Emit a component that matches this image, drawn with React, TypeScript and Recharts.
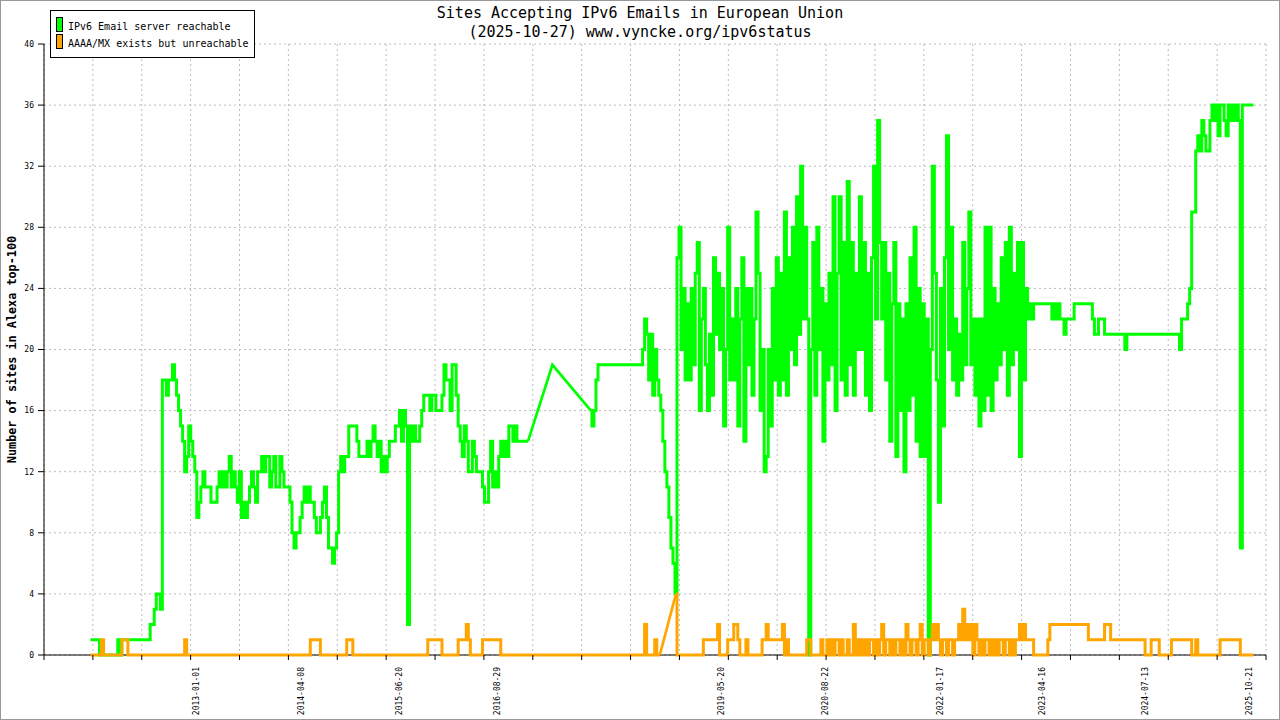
import { CartesianGrid, Line, LineChart, XAxis, YAxis } from 'recharts'

const FONT = '"DejaVu Sans Mono", "Liberation Mono", monospace'
const GREEN = '#00ff00'
const ORANGE = '#ffa500'

// one sample every 9 days starting here
const FIRST_SAMPLE = '2011-09-15'
const SAMPLE_DAYS = 9

// sites with a reachable IPv6 mail server, 10 samples per row
const greenA = [
  1, 1, 1, 1, 1, 0, 0, 0, 0, 0,
  0, 0, 0, 0, 1, 0, 1, 1, 1, 1,
  1, 1, 1, 1, 1, 1, 1, 1, 1, 1,
  2, 2, 3, 4, 4, 3, 18, 18, 17, 18,
  18, 19, 18, 17, 16, 15, 14, 12, 13, 15,
  14, 13, 12, 9, 10, 11, 12, 11, 11, 11,
  10, 10, 10, 11, 12, 11, 12, 11, 12, 13,
  11, 12, 11, 10, 12, 9, 10, 9, 10, 11,
  12, 11, 10, 12, 12, 13, 12, 13, 13, 11,
  12, 13, 11, 11, 13, 12, 11, 11, 11, 10,
  8, 7, 8, 8, 9, 10, 11, 10, 11, 10,
  10, 9, 8, 8, 9, 10, 11, 9, 7, 7,
  6, 7, 8, 12, 13, 12, 13, 13, 15, 15,
  15, 15, 14, 13, 13, 13, 13, 14, 13, 14,
  15, 14, 13, 14, 12, 13, 12, 13, 14, 14,
]
const greenB = [
  14, 15, 15, 16, 14, 16, 15, 2, 15, 14,
  15, 14, 14, 15, 16, 17, 17, 17, 16, 17,
  17, 16, 16, 16, 17, 19, 18, 18, 16, 19,
  19, 17, 15, 14, 13, 15, 14, 12, 12, 14,
  13, 12, 12, 12, 11, 10, 10, 12, 14, 11,
  12, 11, 13, 14, 13, 14, 13, 15, 15, 14,
  15, 14, 14, 14, 14, 14, 14, null, null, null,
  null, null, null, null, null, null, null, null, 19, null,
  null, null, null, null, null, null, null, null, null, null,
  null, null, null, null, null, null, null, 16, 15, 16,
  18, 19, 19, 19, 19, 19, 19, 19, 19, 19,
  19, 19, 19, 19, 19, 19, 19, 19, 19, 19,
  19, 19, 19, 20, 22, 21, 18, 21, 17, 20,
  18, 17, 16, 14, 12, 11, 9, 7, 6, 4,
]
const greenC = [
  26, 28, 20, 24, 18, 23, 18, 24, 19, 25,
  27, 16, 22, 24, 19, 16, 21, 17, 26, 21,
  25, 20, 24, 15, 20, 28, 18, 22, 18, 24,
  15, 22, 26, 14, 24, 19, 24, 17, 22, 29,
  25, 16, 20, 12, 13, 20, 15, 24, 18, 26,
  17, 25, 18, 29, 17, 26, 20, 28, 19, 30,
  21, 32, 22, 28, 22, 0, 20, 27, 17, 28,
  20, 24, 14, 23, 18, 25, 19, 30, 16, 25,
  30, 18, 27, 17, 31, 19, 27, 17, 25, 20,
  30, 20, 27, 17, 25, 16, 26, 32, 22, 35,
  27, 22, 27, 18, 25, 14, 23, 27, 13, 23,
  16, 22, 12, 23, 16, 26, 17, 28, 14, 24,
  13, 23, 13, 22, 0, 20, 32, 25, 18, 10,
  24, 15, 26, 34, 20, 28, 18, 22, 17, 21,
  18, 27, 19, 24, 29, 19, 22, 17, 22, 15,
  22, 16, 28, 17, 28, 16, 24, 18, 23, 19,
  26, 20, 27, 17, 28, 19, 25, 20, 27, 13,
  27, 18, 24, 22, 23, 22, 23, 23, 23, 23,
]
const greenD = [
  23, 23, 23, 23, 23, 22, 23, 22, 23, 22,
  22, 21, 22, 22, 22, 22, 23, 23, 23, 23,
  23, 23, 23, 23, 23, 22, 21, 21, 22, 22,
  22, 21, 21, 21, 21, 21, 21, 21, 21, 21,
  21, 20, 21, 21, 21, 21, 21, 21, 21, 21,
  21, 21, 21, 21, 21, 21, 21, 21, 21, 21,
  21, 21, 21, 21, 21, 21, 21, 21, 20, 22,
  22, 22, 23, 24, 29, 29, 33, 34, 33, 35,
  34, 33, 33, 35, 36, 35, 36, 34, 36, 36,
  35, 34, 36, 35, 36, 35, 36, 35, 7, 36,
  36, 36, 36, 36, 36,
]

// AAAA/MX present but server unreachable
const orangeA = [
  0, 0, 0, 0, 0, 0, 1, 0, 0, 0,
  0, 0, 0, 0, 0, 0, 1, 1, 1, 0,
  0, 0, 0, 0, 0, 0, 0, 0, 0, 0,
  0, 0, 0, 0, 0, 0, 0, 0, 0, 0,
  0, 0, 0, 0, 0, 0, 0, 1, 0, 0,
  0, 0, 0, 0, 0, 0, 0, 0, 0, 0,
  0, 0, 0, 0, 0, 0, 0, 0, 0, 0,
  0, 0, 0, 0, 0, 0, 0, 0, 0, 0,
  0, 0, 0, 0, 0, 0, 0, 0, 0, 0,
  0, 0, 0, 0, 0, 0, 0, 0, 0, 0,
  0, 0, 0, 0, 0, 0, 0, 0, 0, 1,
  1, 1, 1, 1, 0, 0, 0, 0, 0, 0,
  0, 0, 0, 0, 0, 0, 0, 1, 1, 1,
  0, 0, 0, 0, 0, 0, 0, 0, 0, 0,
  0, 0, 0, 0, 0, 0, 0, 0, 0, 0,
]
const orangeB = [
  0, 0, 0, 0, 0, 0, 0, 0, 0, 0,
  0, 0, 0, 0, 0, 0, 0, 1, 1, 1,
  1, 1, 1, 1, 0, 0, 0, 0, 0, 0,
  0, 0, 1, 1, 1, 1, 2, 1, 0, 0,
  0, 0, 0, 0, 1, 1, 1, 1, 1, 1,
  1, 1, 1, 0, 0, 0, 0, 0, 0, 0,
  0, 0, 0, 0, 0, 0, 0, 0, 0, 0,
  0, 0, 0, 0, 0, 0, 0, 0, 0, 0,
  0, 0, 0, 0, 0, 0, 0, 0, 0, 0,
  0, 0, 0, 0, 0, 0, 0, 0, 0, 0,
  0, 0, 0, 0, 0, 0, 0, 0, 0, 0,
  0, 0, 0, 0, 0, 0, 0, 0, 0, 0,
  0, 0, 0, 0, 2, 0, 0, 0, 0, 1,
  0, 0, null, null, null, null, null, null, null, 4,
]
const orangeC = [
  0, 0, 0, 0, 0, 0, 0, 0, 0, 0,
  0, 0, 0, 1, 1, 1, 1, 1, 1, 1,
  2, 0, 0, 0, 0, 1, 1, 1, 2, 2,
  1, 0, 0, 0, 1, 0, 0, 0, 0, 0,
  0, 0, 1, 1, 2, 1, 1, 1, 1, 1,
  1, 1, 2, 0, 1, 0, 0, 0, 0, 0,
  0, 0, 0, 0, 1, 1, 0, 0, 0, 0,
  0, 1, 0, 0, 1, 0, 1, 0, 1, 1,
  0, 1, 0, 0, 1, 0, 0, 2, 0, 1,
  0, 1, 0, 1, 0, 1, 1, 0, 1, 0,
  1, 2, 0, 1, 1, 0, 1, 0, 1, 1,
  0, 1, 0, 2, 1, 0, 1, 1, 0, 1,
  2, 0, 1, 1, 0, 1, 2, 1, 2, 1,
  0, 1, 1, 0, 1, 1, 0, 1, 1, 2,
  1, 3, 1, 2, 1, 2, 0, 2, 1, 0,
  1, 0, 1, 1, 0, 1, 0, 1, 0, 1,
  1, 0, 1, 1, 0, 1, 0, 1, 1, 2,
  1, 2, 1, 1, 1, 1, 0, 0, 0, 0,
]
const orangeD = [
  0, 0, 0, 1, 2, 2, 2, 2, 2, 2,
  2, 2, 2, 2, 2, 2, 2, 2, 2, 2,
  2, 2, 2, 1, 1, 1, 1, 1, 1, 1,
  1, 2, 2, 2, 1, 1, 1, 1, 1, 1,
  1, 1, 1, 1, 1, 1, 1, 1, 1, 1,
  1, 0, 0, 0, 1, 1, 1, 1, 0, 0,
  0, 0, 0, 0, 1, 1, 1, 1, 1, 1,
  1, 1, 1, 1, 0, 0, 1, 0, 0, 0,
  0, 0, 0, 0, 0, 0, 0, 0, 1, 1,
  1, 1, 1, 1, 1, 1, 1, 1, 0, 0,
  0, 0, 0, 0, 0,
]

const labelDates = [
  '2013-01-01', '2014-04-08', '2015-06-20', '2016-08-29', '2019-05-20',
  '2020-08-22', '2022-01-17', '2023-04-16', '2024-07-13', '2025-10-21',
]
const X_FROM = '2011-02-21'
const X_TO = '2026-01-01'
const GRID_DIVISIONS = 25
const yTicks = [0, 4, 8, 12, 16, 20, 24, 28, 32, 36, 40]

function toYear(date: string) {
  const t = Date.parse(date + 'T00:00:00Z')
  const y = new Date(t).getUTCFullYear()
  const a = Date.UTC(y, 0, 1)
  const b = Date.UTC(y + 1, 0, 1)
  return y + (t - a) / (b - a)
}

// linear joins across the gaps in the record
function gapEnds(vals: (number | null)[]) {
  return vals.map((v, i) => {
    if (v == null) return null
    const prevGap = i > 0 && vals[i - 1] == null
    const nextGap = i < vals.length - 1 && vals[i + 1] == null
    return prevGap || nextGap ? v : null
  })
}

const green = [...greenA, ...greenB, ...greenC, ...greenD]
const orange = [...orangeA, ...orangeB, ...orangeC, ...orangeD]
const greenGap = gapEnds(green)
const orangeGap = gapEnds(orange)
const t0 = toYear(FIRST_SAMPLE)

const data = green.map((g, i) => ({
  x: t0 + (i * SAMPLE_DAYS) / 365.25,
  green: g,
  orange: orange[i],
  greenGap: greenGap[i],
  orangeGap: orangeGap[i],
}))

const xMin = toYear(X_FROM)
const xMax = toYear(X_TO)
const gridTicks = Array.from(
  { length: GRID_DIVISIONS + 1 },
  (_, k) => xMin + (k * (xMax - xMin)) / GRID_DIVISIONS,
)
const labelByValue = new Map(labelDates.map((d) => [toYear(d), d]))
const axisTicks = [...gridTicks, ...labelByValue.keys()].sort((a, b) => a - b)

function XTick(props: any) {
  const { x, y, payload } = props
  const label = labelByValue.get(payload.value)
  if (label) {
    const ty = y + 12
    return (
      <text
        x={x}
        y={ty}
        transform={`rotate(-90 ${x} ${ty})`}
        textAnchor="end"
        dominantBaseline="central"
        fontSize={8}
        fontFamily={FONT}
        fill="#000"
      >
        {label}
      </text>
    )
  }
  return <line x1={x} y1={y} x2={x} y2={y + 5} stroke="#000" />
}

const lineProps = { dot: false, isAnimationActive: false, zIndex: 600 } as any

export default function App() {
  return (
    <div style={{ position: 'absolute', left: 0, top: 0, width: 1280, height: 720, background: '#fff' }}>
      <LineChart width={1280} height={720} data={data} margin={{ top: 44, right: 14, bottom: 0, left: 0 }}>
        <CartesianGrid xAxisId="grid" stroke="#bbb" strokeDasharray="2 3" />
        <XAxis
          dataKey="x"
          type="number"
          domain={[xMin, xMax]}
          ticks={axisTicks}
          interval={0}
          tickLine={false}
          tickSize={0}
          tickMargin={0}
          tick={<XTick />}
          axisLine={{ stroke: '#000' }}
          height={65}
          {...({ zIndex: -50 } as any)}
        />
        <XAxis xAxisId="grid" dataKey="x" type="number" domain={[xMin, xMax]} ticks={gridTicks} interval={0} hide />
        <YAxis
          type="number"
          domain={[0, 40]}
          ticks={yTicks}
          interval={0}
          width={44}
          tickSize={6}
          tickMargin={4}
          axisLine={{ stroke: '#000' }}
          tickLine={{ stroke: '#000' }}
          tick={{ fontSize: 8, fill: '#000', fontFamily: FONT }}
        />
        <Line dataKey="green" type="step" stroke={GREEN} strokeWidth={3} {...lineProps} />
        <Line dataKey="greenGap" type="linear" connectNulls stroke={GREEN} strokeWidth={2.7} {...lineProps} />
        <Line dataKey="orange" type="step" stroke={ORANGE} strokeWidth={3} {...lineProps} />
        <Line dataKey="orangeGap" type="linear" connectNulls stroke={ORANGE} strokeWidth={2.7} {...lineProps} />
      </LineChart>
      <svg width={1280} height={720} style={{ position: 'absolute', left: 0, top: 0, pointerEvents: 'none' }} fontFamily={FONT}>
        <rect x={0.5} y={0.5} width={1279} height={719} fill="none" stroke="#999" />
        <text x={640} y={13} textAnchor="middle" dominantBaseline="central" fontSize={15}>
          Sites Accepting IPv6 Emails in European Union
        </text>
        <text x={640} y={32} textAnchor="middle" dominantBaseline="central" fontSize={15}>
          (2025-10-27) www.vyncke.org/ipv6status
        </text>
        <text
          x={12}
          y={349.5}
          transform="rotate(-90 12 349.5)"
          textAnchor="middle"
          dominantBaseline="central"
          fontSize={11.8}
          fontWeight="bold"
        >
          Number of sites in Alexa top-100
        </text>
        <rect x={50.5} y={10.5} width={204} height={47} fill="#fff" stroke="#000" />
        <rect x={56.5} y={17.5} width={6} height={14} fill={GREEN} stroke="#000" />
        <rect x={56.5} y={34.5} width={6} height={14} fill={ORANGE} stroke="#000" />
        <text x={68} y={26} dominantBaseline="central" fontSize={10}>IPv6 Email server reachable</text>
        <text x={68} y={43} dominantBaseline="central" fontSize={10}>AAAA/MX exists but unreachable</text>
      </svg>
    </div>
  )
}
